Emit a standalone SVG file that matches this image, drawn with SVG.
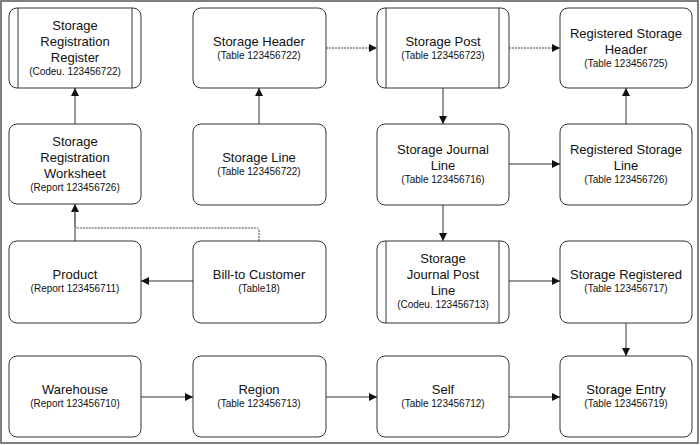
<svg xmlns="http://www.w3.org/2000/svg" width="700" height="445" viewBox="0 0 700 445">
<style>
.n{fill:#fff;stroke:#333;stroke-width:1}
.d{stroke:#333;stroke-width:1}
.t{font-family:"Liberation Sans",Arial,sans-serif;font-size:13px;fill:#111;text-anchor:middle}
.s{font-family:"Liberation Sans",Arial,sans-serif;font-size:10px;fill:#111;text-anchor:middle}
.c{fill:none;stroke:#333;stroke-width:1}
.dot{stroke-dasharray:2 1;stroke:#444}
</style>
<defs>
<marker id="a" viewBox="0 0 10 10" refX="10" refY="5" markerWidth="8" markerHeight="8" orient="auto" markerUnits="userSpaceOnUse">
<path d="M0,0 L10,5 L0,10 z" fill="#111"/>
</marker>
</defs>
<rect x="1" y="1" width="697" height="442" fill="#fff" stroke="#555" stroke-width="1.5"/>
<g id="n-register">
<rect class="n" x="9" y="8" width="132" height="80" rx="8"/>
<line class="d" x1="18" y1="8" x2="18" y2="88"/><line class="d" x1="132" y1="8" x2="132" y2="88"/>
<text class="t" x="75" y="30">Storage</text><text class="t" x="75" y="46">Registration</text><text class="t" x="75" y="62">Register</text>
<text class="s" x="75" y="75">(Codeu. 123456722)</text>
</g>
<g id="n-header">
<rect class="n" x="193" y="8" width="133" height="80" rx="8"/>
<text class="t" x="259" y="46">Storage Header</text><text class="s" x="259" y="59">(Table 123456722)</text>
</g>
<g id="n-post">
<rect class="n" x="377" y="8" width="132" height="80" rx="8"/>
<line class="d" x1="386" y1="8" x2="386" y2="88"/><line class="d" x1="499" y1="8" x2="499" y2="88"/>
<text class="t" x="443" y="46">Storage Post</text><text class="s" x="443" y="59">(Table 123456723)</text>
</g>
<g id="n-regheader">
<rect class="n" x="560" y="8" width="132" height="80" rx="8"/>
<text class="t" x="626" y="38">Registered Storage</text><text class="t" x="626" y="54">Header</text><text class="s" x="626" y="67">(Table 123456725)</text>
</g>
<g id="n-worksheet">
<rect class="n" x="9" y="124" width="132" height="80" rx="8"/>
<text class="t" x="75" y="146">Storage</text><text class="t" x="75" y="162">Registration</text><text class="t" x="75" y="178">Worksheet</text>
<text class="s" x="75" y="191">(Report 123456726)</text>
</g>
<g id="n-line">
<rect class="n" x="193" y="124" width="133" height="81" rx="8"/>
<text class="t" x="259" y="162">Storage Line</text><text class="s" x="259" y="175">(Table 123456722)</text>
</g>
<g id="n-journal">
<rect class="n" x="377" y="124" width="132" height="81" rx="8"/>
<text class="t" x="443" y="154">Storage Journal</text><text class="t" x="443" y="170">Line</text><text class="s" x="443" y="183">(Table 123456716)</text>
</g>
<g id="n-regline">
<rect class="n" x="560" y="124" width="132" height="81" rx="8"/>
<text class="t" x="626" y="154">Registered Storage</text><text class="t" x="626" y="170">Line</text><text class="s" x="626" y="183">(Table 123456726)</text>
</g>
<g id="n-product">
<rect class="n" x="9" y="241" width="132" height="82" rx="8"/>
<text class="t" x="75" y="279">Product</text><text class="s" x="75" y="292">(Report 123456711)</text>
</g>
<g id="n-billto">
<rect class="n" x="193" y="241" width="133" height="82" rx="8"/>
<text class="t" x="259" y="279">Bill-to Customer</text><text class="s" x="259" y="292">(Table18)</text>
</g>
<g id="n-journalpost">
<rect class="n" x="377" y="241" width="132" height="82" rx="8"/>
<line class="d" x1="386" y1="241" x2="386" y2="323"/><line class="d" x1="499" y1="241" x2="499" y2="323"/>
<text class="t" x="443" y="263">Storage</text><text class="t" x="443" y="279">Journal Post</text><text class="t" x="443" y="295">Line</text>
<text class="s" x="443" y="308">(Codeu. 123456713)</text>
</g>
<g id="n-registered">
<rect class="n" x="560" y="241" width="132" height="82" rx="8"/>
<text class="t" x="626" y="279">Storage Registered</text><text class="s" x="626" y="292">(Table 123456717)</text>
</g>
<g id="n-warehouse">
<rect class="n" x="9" y="356" width="132" height="81" rx="8"/>
<text class="t" x="75" y="394">Warehouse</text><text class="s" x="75" y="407">(Report 123456710)</text>
</g>
<g id="n-region">
<rect class="n" x="193" y="356" width="133" height="81" rx="8"/>
<text class="t" x="259" y="394">Region</text><text class="s" x="259" y="407">(Table 123456713)</text>
</g>
<g id="n-self">
<rect class="n" x="377" y="356" width="132" height="81" rx="8"/>
<text class="t" x="443" y="394">Self</text><text class="s" x="443" y="407">(Table 123456712)</text>
</g>
<g id="n-entry">
<rect class="n" x="560" y="356" width="132" height="81" rx="8"/>
<text class="t" x="626" y="394">Storage Entry</text><text class="s" x="626" y="407">(Table 123456719)</text>
</g>
<g id="connectors">
<path class="c" d="M75,124 V88" marker-end="url(#a)"/>
<path class="c" d="M259,124 V88" marker-end="url(#a)"/>
<path class="c dot" d="M326,48 H377" marker-end="url(#a)"/>
<path class="c dot" d="M509,48 H560" marker-end="url(#a)"/>
<path class="c" d="M443,88 V124" marker-end="url(#a)"/>
<path class="c" d="M509,164 H560" marker-end="url(#a)"/>
<path class="c" d="M626,124 V88" marker-end="url(#a)"/>
<path class="c" d="M443,205 V241" marker-end="url(#a)"/>
<path class="c" d="M509,281 H560" marker-end="url(#a)"/>
<path class="c" d="M626,323 V356" marker-end="url(#a)"/>
<path class="c" d="M193,281 H141" marker-end="url(#a)"/>
<path class="c" d="M75,241 V204" marker-end="url(#a)"/>
<path class="c dot" d="M259,241 V231 Q259,228 256,228 H78 Q75,228 75,225 V210"/>
<path class="c" d="M141,397 H193" marker-end="url(#a)"/>
<path class="c" d="M326,397 H377" marker-end="url(#a)"/>
<path class="c" d="M509,397 H560" marker-end="url(#a)"/>
</g>
</svg>
